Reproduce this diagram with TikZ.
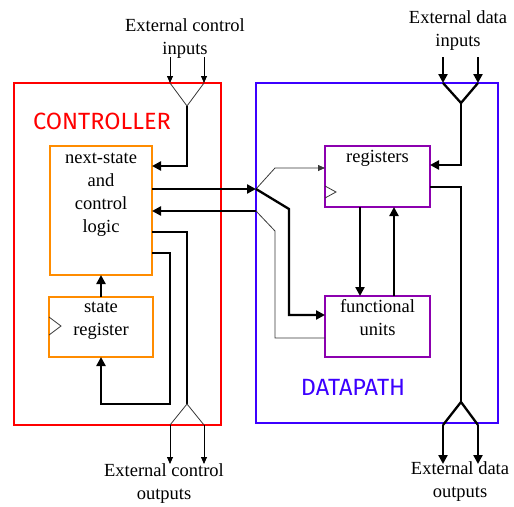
\documentclass[tikz,border=0pt]{standalone}
\usepackage{fontspec}
\setmainfont{Liberation Serif}
\newfontfamily\blockfont{Fira Sans}
\usetikzlibrary{arrows.meta}

\definecolor{ctrlred}{RGB}{255,0,0}
\definecolor{dpblue}{RGB}{60,0,255}
\definecolor{unitorange}{RGB}{255,140,0}
\definecolor{regpurple}{RGB}{140,0,175}

\tikzset{
  block/.style={draw, line width=2.6pt, minimum width=#1, inner sep=0pt, outer sep=0pt},
  unit/.style={draw=unitorange, line width=2.4pt, inner sep=0pt, outer sep=0pt},
  dpunit/.style={draw=regpurple, line width=2.4pt, inner sep=0pt, outer sep=0pt},
  txt/.style={font=\fontsize{18.5}{23}\selectfont, align=center, inner sep=0pt},
  title/.style={font=\blockfont\fontsize{23.5}{26}\selectfont},
  bus/.style={line width=2.3pt, line join=miter},
  wire/.style={line width=0.8pt, draw=black!78},
  tip/.style={-{Triangle[length=9pt,width=9pt]}},
  smalltip/.style={-{Triangle[length=7pt,width=6pt]}}
}

\begin{document}
\begin{tikzpicture}[x=1pt,y=-1pt]
  \useasboundingbox (0,0) rectangle (514,506);

  % outer blocks
  \node[block=207pt, draw=ctrlred, minimum height=342pt] (ctrl) at (117.5,254) {};
  \node[block=242pt, draw=dpblue, minimum height=340pt] (dp) at (377,253) {};
  \node[title, text=ctrlred] (ctrlname) at (102,121) {CONTROLLER};
  \node[title, text=dpblue] (dpname) at (353,387) {DATAPATH};

  % controller units
  \node[unit, minimum width=102pt, minimum height=129pt] (nsl) at (101,210.5) {};
  \node[txt] (nsltext) at (101,195) {next-state\\and\\control\\logic};
  \node[unit, minimum width=104pt, minimum height=60pt] (sreg) at (101,327) {};
  \node[txt] (sregtext) at (101,321) {state\\register};
  \draw[wire] (49,317) -- (61,326) -- (49,335);

  % datapath units
  \node[dpunit, minimum width=105pt, minimum height=61pt] (regs) at (377.5,176.5) {};
  \node[txt] (regstext) at (377.5,158) {registers};
  \draw[wire] (325,186) -- (336,192) -- (325,198);
  \node[dpunit, minimum width=105pt, minimum height=61pt] (fu) at (377.5,326.5) {};
  \node[txt] (futext) at (377.5,318) {functional\\units};

  % external labels
  \node[txt] (cin) at (185,38.5) {External control\\inputs};
  \node[txt] (cout) at (164,484) {External control\\outputs};
  \node[txt] (din) at (458,31) {External data\\inputs};
  \node[txt] (dout) at (460,482) {External data\\outputs};

  % fork points
  \coordinate (cinA) at (170,57);  \coordinate (cinB) at (204,57);
  \coordinate (cinL) at (170,83);  \coordinate (cinR) at (204,83);
  \coordinate (cfork) at (187,106);
  \coordinate (ofork) at (187,404);
  \coordinate (outL) at (170,425); \coordinate (outR) at (204,425);
  \coordinate (outA) at (170,464); \coordinate (outB) at (204,464);
  \coordinate (dinA) at (443,57);  \coordinate (dinB) at (478,57);
  \coordinate (dinL) at (443,83);  \coordinate (dinR) at (478,83);
  \coordinate (dfork) at (461,103);
  \coordinate (dofork) at (461,402);
  \coordinate (doutL) at (443,425); \coordinate (doutR) at (478,425);
  \coordinate (doutA) at (443,464); \coordinate (doutB) at (478,464);
  \coordinate (c2d) at (256,189);
  \coordinate (d2c) at (256,211);

  % controller wiring
  \draw[line width=0.8pt, smalltip] (cinA) -- (cinL);
  \draw[line width=0.8pt, smalltip] (cinB) -- (cinR);
  \draw[wire] (cinL) -- (cfork) -- (cinR);
  \draw[bus, tip] (cfork) |- (nsl.east |- 0,166);
  \draw[bus, tip] (sreg.north) -- (nsl.south);
  \draw[bus, tip] (nsl.east |- 0,253) -| (170,404) -| (sreg.south);
  \draw[bus] (nsl.east |- 0,232) -| (ofork);
  \draw[wire] (outL) -- (ofork) -- (outR);
  \draw[line width=0.8pt, smalltip] (outL) -- (outA);
  \draw[line width=0.8pt, smalltip] (outR) -- (outB);

  % between controller and datapath
  \draw[bus, tip] (nsl.east |- c2d) -- (c2d);
  \draw[bus, tip] (d2c) -- (nsl.east |- d2c);

  % datapath wiring
  \draw[wire, smalltip] (c2d) -- (275,168) -- (regs.west |- 0,168);
  \draw[bus, tip] (c2d) -- (289,209) |- (fu.west |- 0,315);
  \draw[wire] (d2c) -- (275,231) |- (fu.west |- 0,338);
  \draw[bus, tip] (360,207) -- (360,296);
  \draw[bus, tip] (394,296) -- (394,207);
  \draw[bus, tip] (dinA) -- (dinL);
  \draw[bus, tip] (dinB) -- (dinR);
  \draw[bus] (dinL) -- (dfork) -- (dinR);
  \draw[bus, tip] (dfork) |- (regs.east |- 0,165);
  \draw[bus] (regs.east |- 0,187) -| (dofork);
  \draw[bus] (doutL) -- (dofork) -- (doutR);
  \draw[bus, tip] (doutL) -- (doutA);
  \draw[bus, tip] (doutR) -- (doutB);
\end{tikzpicture}
\end{document}
